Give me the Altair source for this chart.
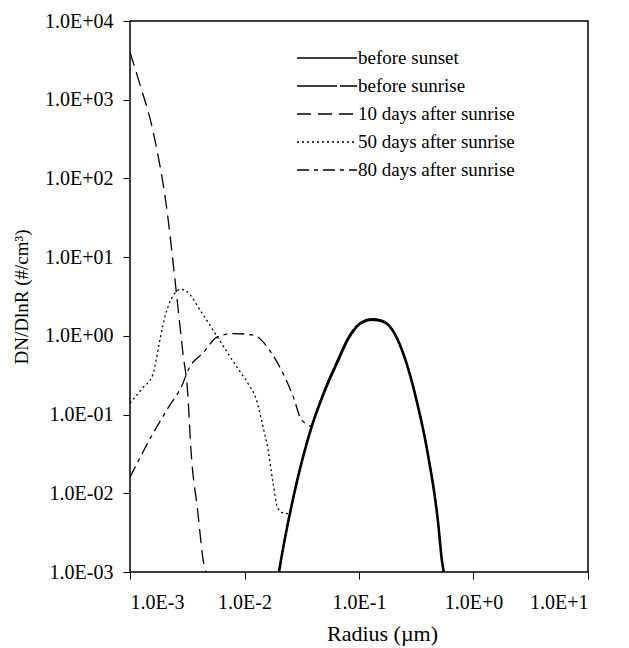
import altair as alt
import pandas as pd

series = ["before sunset", "before sunrise", "10 days after sunrise",
          "50 days after sunrise", "80 days after sunrise"]

x_sunset = [2.0e-2, 2.08e-2, 2.7e-2, 3.8e-2, 4.95e-2, 6.5e-2, 8.0e-2, 0.104, 0.13, 0.155,
            0.2, 0.246, 0.326, 0.4, 0.49, 0.53, 0.55]
y_sunset = [0.001, 0.0014, 0.0095, 0.065, 0.19, 0.47, 0.9, 1.45, 1.6, 1.55,
            1.13, 0.57, 0.13, 0.031, 0.0043, 0.0014, 0.001]
x_sunrise = [2.0e-2, 2.08e-2, 2.7e-2, 3.8e-2, 4.95e-2, 6.5e-2, 8.0e-2, 0.104, 0.13, 0.155,
             0.2, 0.246, 0.326, 0.4, 0.49, 0.53, 0.55]
y_sunrise = [0.001, 0.0014, 0.0098, 0.067, 0.2, 0.5, 0.95, 1.5, 1.65, 1.6,
             1.15, 0.58, 0.135, 0.032, 0.0044, 0.0014, 0.001]
x_d10 = [1.0e-3, 1.2e-3, 1.6e-3, 2.1e-3, 2.5e-3, 2.9e-3, 3.2e-3, 3.4e-3, 3.9e-3, 4.4e-3, 4.6e-3]
y_d10 = [4000, 1700, 380, 40, 4.4, 0.6, 0.18, 0.037, 0.006, 0.0013, 0.001]
x_d50 = [1.0e-3, 1.3e-3, 1.58e-3, 1.8e-3, 2.0e-3, 2.4e-3, 2.8e-3, 3.1e-3, 4.2e-3, 6.2e-3,
         8.8e-3, 1.07e-2, 1.26e-2, 1.45e-2, 1.6e-2, 1.77e-2, 1.95e-2, 2.2e-2, 2.55e-2]
y_d50 = [0.14, 0.22, 0.32, 0.8, 1.66, 3.3, 3.9, 3.7, 2.0, 0.83,
         0.38, 0.25, 0.16, 0.07, 0.037, 0.014, 0.0065, 0.0056, 0.0055]
x_d80 = [1.0e-3, 1.47e-3, 2.13e-3, 2.9e-3, 3.2e-3, 4.4e-3, 5.8e-3, 8.1e-3, 1.2e-2, 1.7e-2,
         2.2e-2, 2.7e-2, 3.1e-2, 3.9e-2]
y_d80 = [0.016, 0.047, 0.119, 0.25, 0.36, 0.62, 0.97, 1.07, 1.02, 0.62,
         0.32, 0.16, 0.089, 0.07]

x_major = [1e-3, 1e-2, 1e-1, 1e0, 1e1]
y_major = [1e-3, 1e-2, 1e-1, 1e0, 1e1, 1e2, 1e3, 1e4]

rows = []
for name, xs, ys in [
    (series[0], x_sunset, y_sunset),
    (series[1], x_sunrise, y_sunrise),
    (series[2], x_d10, y_d10),
    (series[3], x_d50, y_d50),
    (series[4], x_d80, y_d80),
]:
    for i, (a, b) in enumerate(zip(xs, ys)):
        rows.append({"series": name, "r": a, "v": b, "i": i})
df = pd.DataFrame(rows)

W, H = 458, 551
FONT = "Liberation Serif"

x_scale = alt.Scale(type="log", domain=[1e-3, 10], nice=False)
y_scale = alt.Scale(type="log", domain=[1e-3, 1e4], nice=False)

x_axis = alt.Axis(values=x_major, ticks=True, tickSize=7, tickColor="black", tickWidth=1,
                  domain=False, grid=False,
                  labelFont=FONT, labelFontSize=20, labelColor="black",
                  labelPadding=13, title="Radius (\u00b5m)", titleFontSize=22,
                  titleFont=FONT, titleColor="black", titleFontWeight="normal",
                  titlePadding=11, titleX=252,
                  labelExpr="'1.0E' + (round(log(datum.value)/LN10) < 0 ? '-' : '+') + abs(round(log(datum.value)/LN10))")
y_axis = alt.Axis(values=y_major, ticks=True, tickSize=7, tickColor="black", tickWidth=1,
                  domain=False, grid=False,
                  labelFont=FONT, labelFontSize=20, labelColor="black",
                  labelPadding=10, title="DN/DlnR (#/cm\u00b3)", titleFontSize=19,
                  titleFont=FONT, titleColor="black", titleFontWeight="normal",
                  titlePadding=13,
                  labelExpr="'1.0E' + (round(log(datum.value)/LN10) < 0 ? '-' : '+') + '0' + abs(round(log(datum.value)/LN10))")

dash_range = [[1, 0], [40, 3], [14, 7], [2, 3], [12, 5, 4, 5]]

legend = alt.Legend(title=None, orient="none", legendX=206, legendY=26,
                    symbolType="M-5,0H1", symbolSize=400,
                    symbolStrokeColor="black", symbolFillColor="transparent",
                    symbolStrokeWidth=1.6,
                    labelFont=FONT, labelFontSize=19,
                    labelColor="black", rowPadding=7,
                    labelOffset=0, padding=0)

lines = alt.Chart(df).mark_line(color="black", interpolate="monotone", clip=True).encode(
    x=alt.X("r:Q", scale=x_scale, axis=x_axis),
    y=alt.Y("v:Q", scale=y_scale, axis=y_axis),
    strokeDash=alt.StrokeDash("series:N", sort=series,
                              scale=alt.Scale(domain=series, range=dash_range),
                              legend=legend),
    strokeWidth=alt.condition(alt.datum.series == "before sunset",
                              alt.value(2.6), alt.value(1.3)),
    order="i:Q",
)

chart = alt.layer(lines).properties(
    width=W, height=H,
    padding={"left": 4, "top": 3, "right": 5, "bottom": 5},
    view=alt.ViewBackground(stroke="black", strokeWidth=1.5),
)

chart.save("out.html", embed_options={"renderer": "svg", "actions": False})
